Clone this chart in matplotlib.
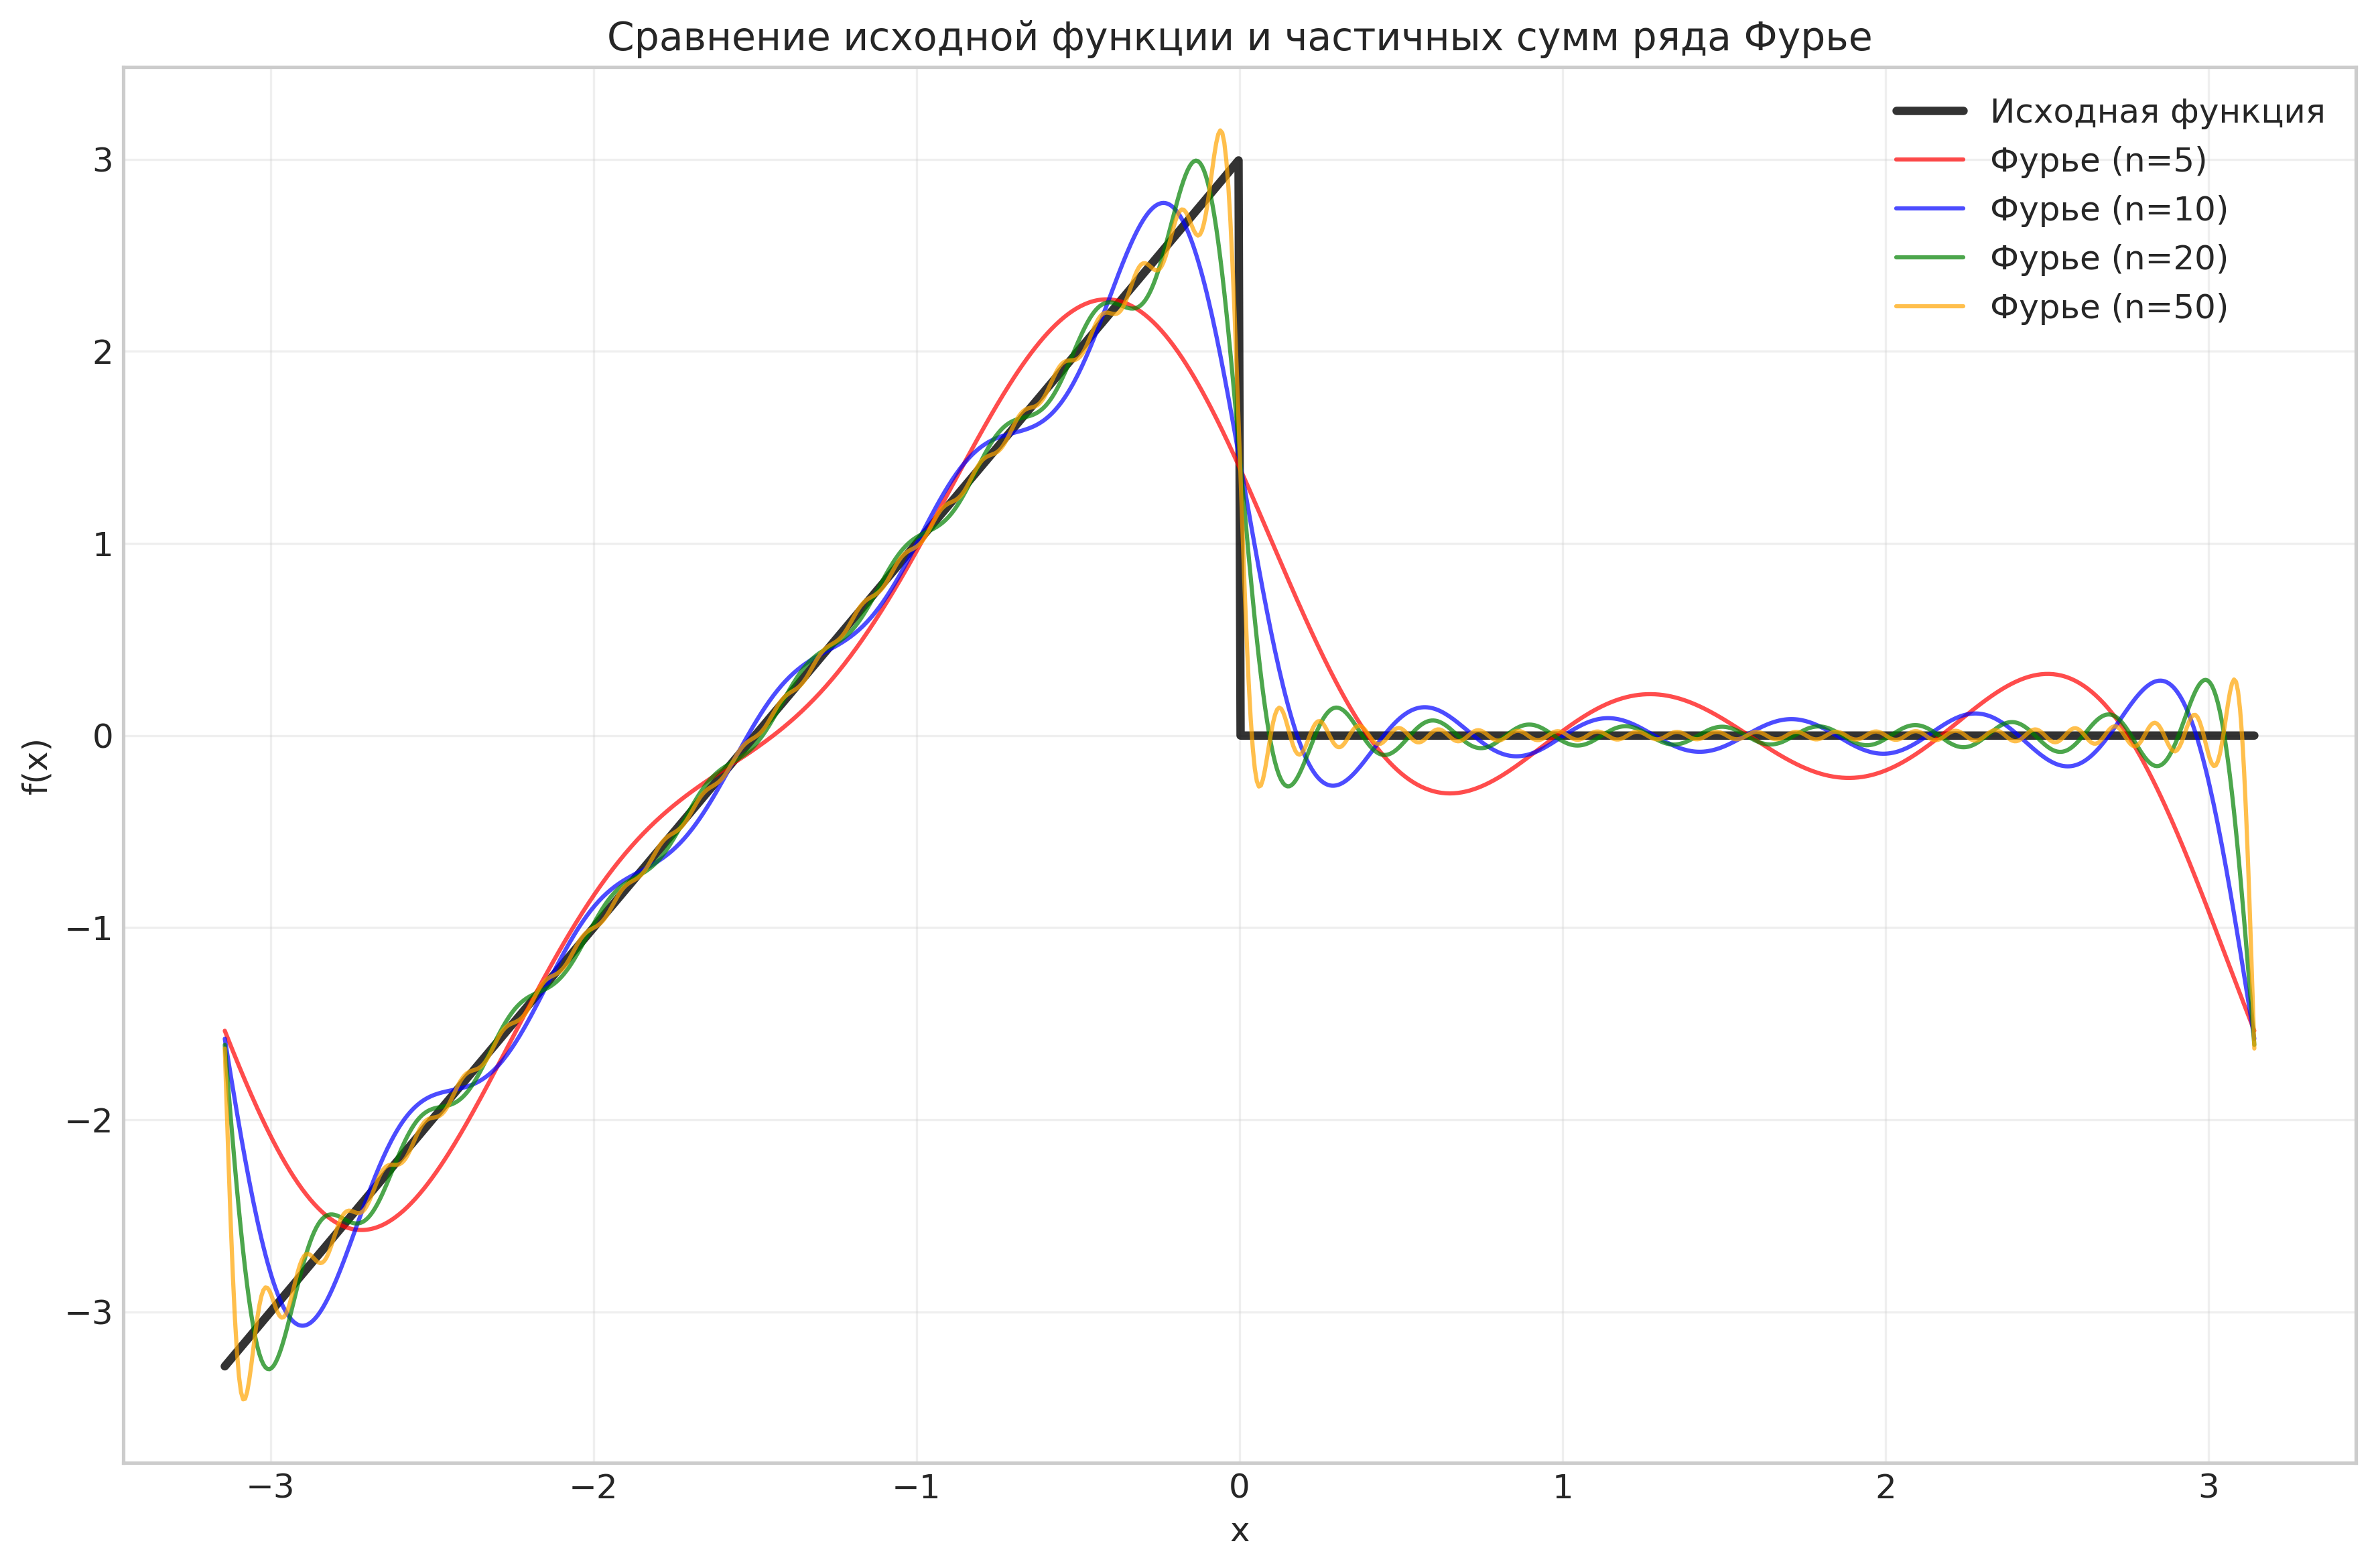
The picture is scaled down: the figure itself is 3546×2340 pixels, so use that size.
import numpy as np
import matplotlib
matplotlib.use("Agg")
import matplotlib.pyplot as plt

# Original piecewise-linear function (nodes)
node_x = [-np.pi, 0.0, 0.0, np.pi]
node_y = [-3.2832, 3.0, 0.0, 0.0]

# Numbers of harmonics and styling for each partial sum
harmonics = [5, 10, 20, 50]
colors = ["red", "blue", "green", "orange"]
labels = ["Фурье (n=5)", "Фурье (n=10)", "Фурье (n=20)", "Фурье (n=50)"]

title = "Сравнение исходной функции и частичных сумм ряда Фурье"
xlabel = "x"
ylabel = "f(x)"
orig_label = "Исходная функция"


def f(x):
    x = np.asarray(x, dtype=float)
    left = np.interp(x, node_x[:2], node_y[:2])
    right = np.interp(x, node_x[2:], node_y[2:])
    return np.where(x < 0, left, right)


# Fourier coefficients computed numerically from the original function
t = np.linspace(-np.pi, np.pi, 200001)
ft = f(t)
a0 = np.trapezoid(ft, t) / np.pi


def partial_sum(x, n):
    s = np.full_like(x, a0 / 2)
    for k in range(1, n + 1):
        ak = np.trapezoid(ft * np.cos(k * t), t) / np.pi
        bk = np.trapezoid(ft * np.sin(k * t), t) / np.pi
        s += ak * np.cos(k * x) + bk * np.sin(k * x)
    return s


x = np.linspace(-np.pi, np.pi, 1000)

plt.style.use("seaborn-v0_8-whitegrid")
plt.rcParams["font.family"] = ["DejaVu Sans"]
fig = plt.figure(figsize=(11.82, 7.8), dpi=300)
ax = fig.add_axes([0.0519, 0.0671, 0.9396, 0.8902])

ax.plot(x, f(x), color="black", linewidth=3, alpha=0.8, label=orig_label)
for n, c, lab in zip(harmonics, colors, labels):
    ax.plot(x, partial_sum(x, n), color=c, linewidth=1.5, alpha=0.7, label=lab)

ax.set_title(title, fontsize=14)
ax.set_xlabel(xlabel, fontsize=12)
ax.set_ylabel(ylabel, fontsize=12)
ax.tick_params(labelsize=12)
ax.grid(True, alpha=0.3)
ax.legend(fontsize=12, loc="upper right")
for s in ax.spines.values():
    s.set_color("#cccccc")
    s.set_linewidth(1.25)

fig.savefig("out.png", dpi=300)
